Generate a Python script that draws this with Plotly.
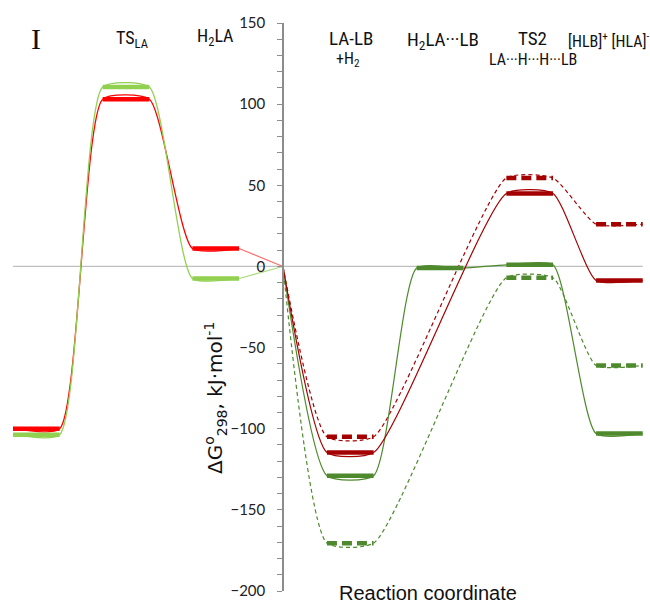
import plotly.graph_objects as go

# ---------------- data (kJ/mol) ----------------
left_stages = ["I", "TS<sub>LA</sub>", "H<sub>2</sub>LA"]
right_stages = ["LA-LB", "H<sub>2</sub>LA···LB", "TS2", "[HLB]<sup>+</sup> [HLA]<sup>-</sup>"]
sub_labels = ["+H<sub>2</sub>", "LA···H···H···LB"]

left_red = [-100, 103, 11]
left_green = [-103.7, 110.5, -7.4]
start_level = 0
right_red_solid = [-114.7, None, 45, -8.6]
right_red_dash = [-105, None, 54.5, 26]
right_green_solid = [-129, -1, 1, -103]
right_green_dash = [-170.5, None, -7, -61]

y_ticks = [-200, -150, -100, -50, 0, 50, 100, 150]

# ---------------- layout constants ----------------
left_pos = [-2.75, -1.75, -0.75]
right_pos = [0.75, 1.75, 2.75, 3.75]
HALF = 0.26
PX = 89.7  # pixels per stage unit

RED = "#FF0000"
LGREEN = "#92D050"
DRED = "#A50000"
DGREEN = "#4E8A2D"


def plateau_points(pos, vals):
    xs, ys = [], []
    for p, v in zip(pos, vals):
        if v is None:
            continue
        xs += [p - HALF, p + HALF]
        ys += [v, v]
    return xs, ys


def plateau_segments(pos, vals):
    xs, ys = [], []
    for p, v in zip(pos, vals):
        if v is None:
            continue
        xs += [p - HALF, p + HALF, None]
        ys += [v, v, None]
    return xs, ys


fig = go.Figure()
SMOOTH = 0.55
THICK = 4.5

# left pathway
for vals, col, thin in [(left_red, RED, "#FF6A6A"), (left_green, LGREEN, "#A9DA7A")]:
    xs, ys = plateau_points(left_pos, vals)
    fig.add_trace(go.Scatter(x=xs, y=ys, mode="lines",
                             line=dict(color=col, width=1.3, shape="spline", smoothing=SMOOTH),
                             hoverinfo="skip", showlegend=False))
    fig.add_trace(go.Scatter(x=[xs[-1], 0], y=[ys[-1], start_level], mode="lines",
                             line=dict(color=thin, width=1.1),
                             hoverinfo="skip", showlegend=False))
    sx, sy = plateau_segments(left_pos, vals)
    fig.add_trace(go.Scatter(x=sx, y=sy, mode="lines", line=dict(color=col, width=THICK),
                             hoverinfo="skip", showlegend=False))

# right pathways
for vals, col, dashed in [(right_green_dash, DGREEN, True), (right_red_dash, DRED, True),
                          (right_green_solid, DGREEN, False), (right_red_solid, DRED, False)]:
    xs, ys = plateau_points(right_pos, vals)
    xs = [0] + xs
    ys = [start_level] + ys
    fig.add_trace(go.Scatter(x=xs, y=ys, mode="lines",
                             line=dict(color=col, width=1.2, shape="spline", smoothing=SMOOTH,
                                       dash="4px,3px" if dashed else "solid"),
                             hoverinfo="skip", showlegend=False))
    sx, sy = plateau_segments(right_pos, vals)
    fig.add_trace(go.Scatter(x=sx, y=sy, mode="lines",
                             line=dict(color=col, width=THICK,
                                       dash="10px,5px" if dashed else "solid"),
                             hoverinfo="skip", showlegend=False))

# zero reference line
fig.add_shape(type="line", xref="x", yref="y",
              x0=left_pos[0] - HALF, x1=right_pos[-1] + HALF, y0=0, y1=0,
              line=dict(color="#BFBFBF", width=1.2), layer="below")

W, H = 650, 606
T, B = 23, 15
PH = H - T - B


def py(p):
    return (H - B - p) / PH


COND = "Roboto Condensed, Liberation Sans Narrow, Arial Narrow"
lab_font = dict(family=COND, size=19, color="#111")
left_font = dict(family=COND, size=18, color="#111")
small_font = dict(family=COND, size=16, color="#111")

ann = []
ann.append(dict(text=left_stages[0], x=36 / W, y=py(38), font=dict(family="Liberation Serif", size=30, color="#111")))
ann.append(dict(text=left_stages[1], x=132 / W, y=py(39), font=left_font))
ann.append(dict(text=left_stages[2], x=215 / W, y=py(37), font=left_font))
ann.append(dict(text=right_stages[0], x=351 / W, y=py(39), font=lab_font))
ann.append(dict(text=sub_labels[0], x=348 / W, y=py(60), font=small_font))
ann.append(dict(text=right_stages[1], x=443 / W, y=py(41), font=lab_font))
ann.append(dict(text=right_stages[2], x=532 / W, y=py(39), font=lab_font))
ann.append(dict(text=sub_labels[1], x=533 / W, y=py(59), font=small_font))
ann.append(dict(text=right_stages[3], x=608 / W, y=py(40), font=dict(family=COND, size=16, color="#111")))
ann.append(dict(text="Reaction coordinate", x=428 / W, y=py(606), yanchor="bottom",
                font=dict(family="Liberation Sans", size=20, color="#111")))
ann.append(dict(text="ΔG<sup>o</sup><sub>298</sub>, kJ·mol<sup>-1</sup>", x=215 / W, y=py(398),
                textangle=-90, font=dict(family="DejaVu Sans", size=20, color="#111")))
for a in ann:
    a.setdefault("yanchor", "middle")
    a.update(xref="paper", yref="paper", showarrow=False, xanchor="center")

fig.update_layout(
    width=W, height=H,
    margin=dict(l=0, r=0, t=T, b=B),
    paper_bgcolor="white", plot_bgcolor="white",
    annotations=ann,
    xaxis=dict(range=[-283 / PX, (W - 283) / PX], visible=False, fixedrange=True),
    yaxis=dict(range=[-200, 150], anchor="free", position=283 / W,
               tickvals=y_ticks, ticks="outside", ticklen=5, tickwidth=1.2, tickcolor="#8C8C8C",
               showline=True, linecolor="#8C8C8C", linewidth=1.5,
               showgrid=False, zeroline=False, ticklabelstandoff=9,
               tickfont=dict(family="Lato", size=15, color="#222"),
               minor=dict(dtick=10, ticks="outside", ticklen=5, tickcolor="#8C8C8C", tickwidth=1.2,
                          showgrid=False)),
)

fig.write_html("out.html")
